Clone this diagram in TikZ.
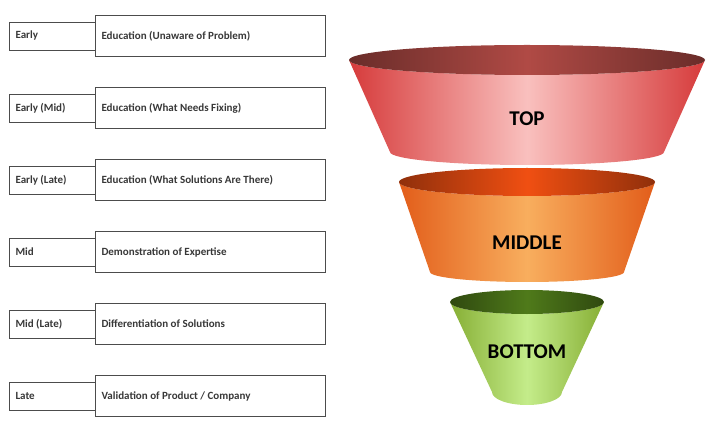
\documentclass[tikz,border=0pt]{standalone}
\usepackage{fontspec}
\setmainfont{Carlito}
\newfontfamily\labfont{Carlito}
\begin{document}
\begin{tikzpicture}[x=1pt,y=1pt,
  smallbox/.style={draw=black!70,line width=0.8pt,fill=white,minimum width=86pt,minimum height=28pt,anchor=north west,inner sep=0pt},
  bigbox/.style={draw=black!70,line width=0.8pt,fill=white,minimum width=230pt,minimum height=41pt,anchor=north west,inner sep=0pt},
  boxtext/.style={font=\fontsize{11}{13}\selectfont\bfseries,text=black!78,anchor=west},
  funlabel/.style={font=\labfont\fontsize{21}{24}\selectfont\bfseries,text=black}]
\useasboundingbox (0,0) rectangle (706,-430);
\foreach \i/\a/\b in {0/Early/Education (Unaware of Problem),
  1/Early (Mid)/Education (What Needs Fixing),
  2/Early (Late)/Education (What Solutions Are There),
  3/Mid/Demonstration of Expertise,
  4/Mid (Late)/Differentiation of Solutions,
  5/Late/{Validation of Product / Company}}{
  \node[smallbox] (s\i) at (9,{-22-72*\i}) {};
  \node[bigbox] (b\i) at (95,{-15-72*\i}) {};
  \node[boxtext] (st\i) at (12,{-36-72*\i}) {\a};
  \node[boxtext] (bt\i) at (98,{-36-72*\i}) {\b};
}
\newcommand{\funseg}[9]{%
  \shade[left color=#7,right color=#7,middle color=#8]
    ({527-#2},-#1) -- ({527-#5},-#4) arc[start angle=180,end angle=360,x radius=#5,y radius=#6]
    -- ({527+#2},-#1) arc[start angle=0,end angle=-180,x radius=#2,y radius=#3] -- cycle;
  \shade[left color=#9!60!black,right color=#9!60!black,middle color=#9] (527,-#1) ellipse[x radius=#2,y radius=#3];
}
\definecolor{redE}{HTML}{D63B3B}\definecolor{redM}{HTML}{F9C0BE}\definecolor{redT}{HTML}{B04A45}
\definecolor{orE}{HTML}{E25D1A}\definecolor{orM}{HTML}{F8AE5E}\definecolor{orT}{HTML}{F04F12}
\definecolor{grE}{HTML}{86AE34}\definecolor{grM}{HTML}{C4EC8A}\definecolor{grT}{HTML}{4F7A1A}
\funseg{60}{178}{15}{152}{137}{13}{redE}{redM}{redT}
\funseg{182}{128}{14}{272}{97}{10}{orE}{orM}{orT}
\funseg{302}{77}{12}{392}{35}{13}{grE}{grM}{grT}
\node[funlabel] (top) at (527,-119) {TOP};
\node[funlabel] (mid) at (527,-243) {MIDDLE};
\node[funlabel] (bot) at (527,-352) {BOTTOM};
\end{tikzpicture}
\end{document}
